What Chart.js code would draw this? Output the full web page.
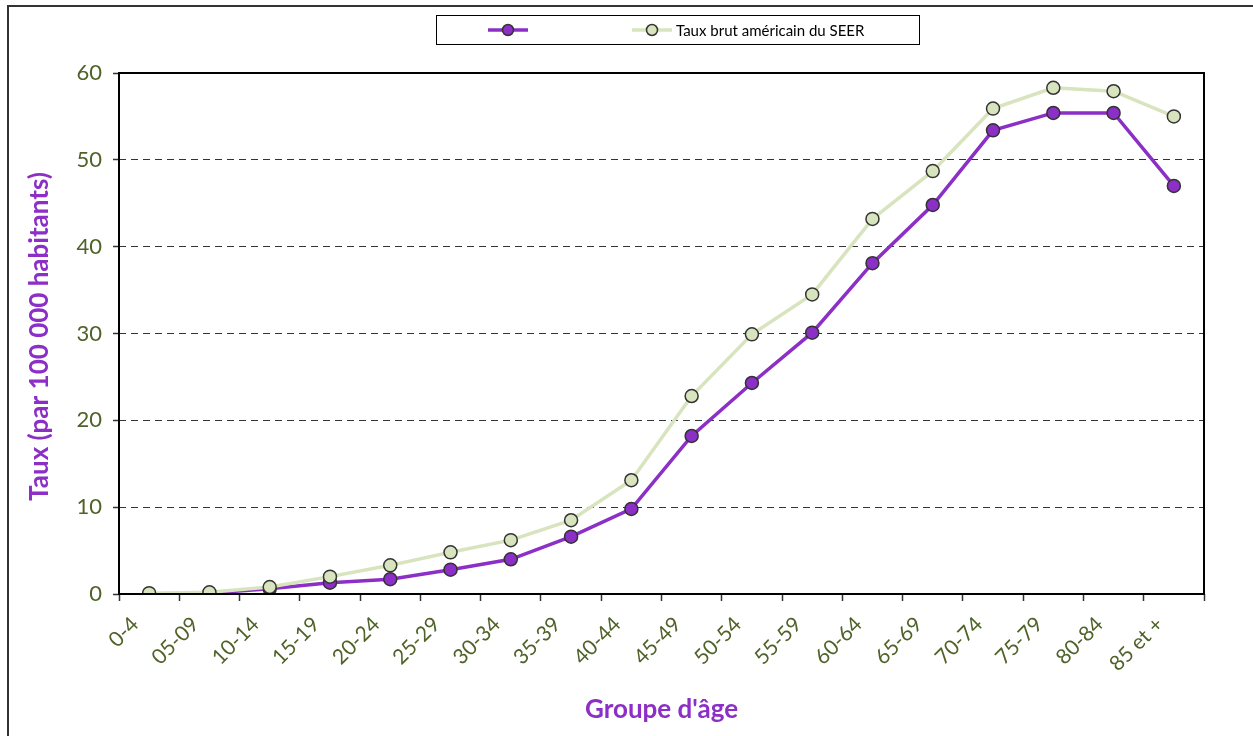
<!DOCTYPE html>
<html>
<head>
<meta charset="utf-8">
<script src="https://cdn.jsdelivr.net/npm/chart.js@4"></script>
<style>
  html, body { margin: 0; padding: 0; background: #fff; }
  #wrap { width: 1253px; height: 736px; position: relative; }
</style>
</head>
<body>
<div id="wrap"><canvas id="c" width="1253" height="736"></canvas></div>
<script>
const categories = ["0-4","05-09","10-14","15-19","20-24","25-29","30-34","35-39","40-44","45-49","50-54","55-59","60-64","65-69","70-74","75-79","80-84","85 et +"];
const seriesNames = ["", "Taux brut américain du SEER"];
const serieLocale = [0.0, 0.1, 0.6, 1.3, 1.7, 2.8, 4.0, 6.6, 9.8, 18.2, 24.3, 30.1, 38.1, 44.8, 53.4, 55.4, 55.4, 47.0];
const serieSEER   = [0.1, 0.2, 0.8, 2.0, 3.3, 4.8, 6.2, 8.5, 13.1, 22.8, 29.9, 34.5, 43.2, 48.7, 55.9, 58.3, 57.9, 55.0];
const yTicks = [0, 10, 20, 30, 40, 50, 60];
const xTitle = "Groupe d'âge";
const yTitle = "Taux (par 100 000 habitants)";

const PURPLE = '#8B2FC6';
const GREEN = '#D7E4BD';
const TICKCOL = '#4F6228';
const FONT = 'Lato, "Open Sans", sans-serif';

const framePlugin = {
  id: 'frame',
  beforeDraw(chart) {
    const ctx = chart.ctx;
    ctx.save();
    ctx.fillStyle = '#fff';
    ctx.fillRect(0, 0, chart.width, chart.height);
    ctx.restore();
  },
  afterDraw(chart) {
    const ctx = chart.ctx;
    const a = chart.chartArea;
    ctx.save();
    // outer frame
    ctx.strokeStyle = '#333';
    ctx.lineWidth = 2;
    ctx.beginPath();
    ctx.moveTo(8, chart.height);
    ctx.lineTo(8, 6);
    ctx.lineTo(chart.width, 6);
    ctx.stroke();

    // axis titles
    ctx.fillStyle = PURPLE;
    ctx.font = 'bold 26px ' + FONT;
    ctx.textAlign = 'center';
    ctx.textBaseline = 'middle';
    ctx.fillText(xTitle, (a.left + a.right) / 2, 710);
    ctx.save();
    ctx.translate(40, (a.top + a.bottom) / 2 + 3);
    ctx.rotate(-Math.PI / 2);
    ctx.fillText(yTitle, 0, 0);
    ctx.restore();

    // legend
    ctx.strokeStyle = '#000';
    ctx.lineWidth = 1;
    ctx.strokeRect(436.5, 15.5, 483, 29);
    const ly = 30;
    const slots = [{x0: 488, x1: 528}, {x0: 632, x1: 672}];
    seriesNames.forEach((name, i) => {
      const ds = chart.data.datasets.find(d => d.label === name);
      const it = slots[i];
      ctx.strokeStyle = ds.borderColor;
      ctx.lineWidth = ds.borderWidth;
      ctx.beginPath();
      ctx.moveTo(it.x0, ly);
      ctx.lineTo(it.x1, ly);
      ctx.stroke();
      ctx.beginPath();
      ctx.arc((it.x0 + it.x1) / 2, ly, 5.5, 0, Math.PI * 2);
      ctx.fillStyle = ds.pointBackgroundColor;
      ctx.fill();
      ctx.strokeStyle = ds.pointBorderColor;
      ctx.lineWidth = 1.5;
      ctx.stroke();
      if (name) {
        ctx.fillStyle = '#000';
        ctx.font = '15px ' + FONT;
        ctx.textAlign = 'left';
        ctx.textBaseline = 'middle';
        ctx.fillText(name, it.x1 + 4, ly + 1);
      }
    });

    // plot frame
    ctx.strokeStyle = '#000';
    ctx.lineWidth = 2;
    ctx.strokeRect(a.left, a.top, a.right - a.left, a.bottom - a.top);
    ctx.restore();
  }
};

new Chart(document.getElementById('c'), {
  type: 'line',
  data: {
    labels: categories,
    datasets: [
      {
        label: seriesNames[0],
        data: serieLocale,
        borderColor: PURPLE,
        borderWidth: 3.5,
        pointBackgroundColor: PURPLE,
        pointBorderColor: '#333',
        pointBorderWidth: 1.5,
        pointRadius: 6.5,
        tension: 0,
        order: 2
      },
      {
        label: seriesNames[1],
        data: serieSEER,
        borderColor: GREEN,
        borderWidth: 3.5,
        pointBackgroundColor: GREEN,
        pointBorderColor: '#333',
        pointBorderWidth: 1.5,
        pointRadius: 6.5,
        tension: 0,
        order: 1
      }
    ]
  },
  options: {
    responsive: false,
    animation: false,
    devicePixelRatio: 1,
    layout: { padding: { left: 0, right: 49, top: 73, bottom: 0 } },
    plugins: {
      legend: { display: false },
      tooltip: { enabled: false },
      title: { display: false }
    },
    scales: {
      x: {
        type: 'category',
        offset: true,
        grid: {
          offset: true,
          drawOnChartArea: false,
          drawTicks: true,
          tickLength: 7,
          tickColor: '#333',
          tickWidth: 1.5
        },
        border: { display: false },
        ticks: {
          color: TICKCOL,
          font: { family: FONT, size: 21 },
          minRotation: 45,
          maxRotation: 45,
          autoSkip: false,
          padding: 11,
          labelOffset: -14
        },
        afterFit(scale) { scale.height = 142; }
      },
      y: {
        min: 0,
        max: 60,
        afterBuildTicks(scale) { scale.ticks = yTicks.map(v => ({ value: v })); },
        grid: {
          color: ctx => (ctx.tick && (ctx.tick.value === 0 || ctx.tick.value === 60)) ? 'rgba(0,0,0,0)' : '#333',
          lineWidth: 1,
          tickColor: '#333',
          tickLength: 6,
          tickWidth: 1.5,
          tickBorderDash: []
        },
        border: { display: false, dash: [7, 5] },
        ticks: {
          color: TICKCOL,
          font: { family: FONT, size: 22 },
          padding: 11
        },
        afterFit(scale) { scale.width = 119; }
      }
    }
  },
  plugins: [framePlugin]
});
</script>
</body>
</html>
